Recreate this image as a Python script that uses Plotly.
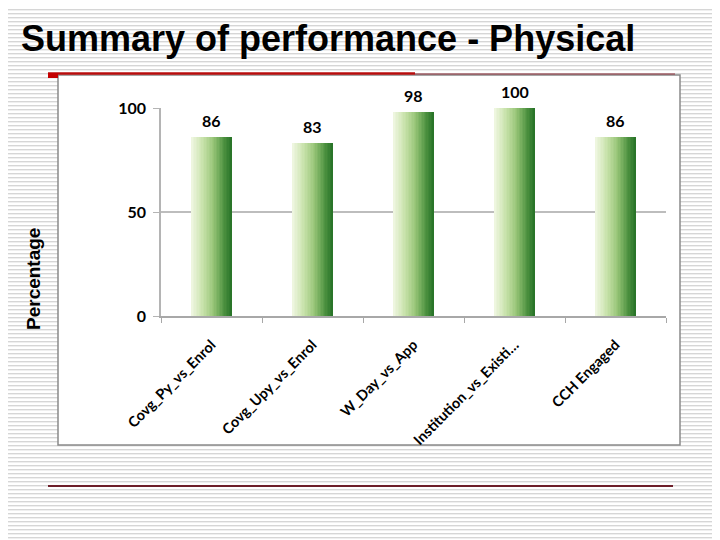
import plotly.graph_objects as go

# ---- data ----
categories = ["Covg_Py_vs_Enrol", "Covg_Upy_vs_Enrol", "W_Day_vs_App",
              "Institution_vs_Existi…", "CCH Engaged"]
values = [86, 83, 98, 100, 86]
y_ticks = [0, 50, 100]
title_text = "Summary of performance - Physical"
y_title = "Percentage"

# ---- geometry (pixels, in screen coordinates; page body has an 8px margin) ----
OFF = 8
W, H = 720 - OFF, 540 - OFF
L, R, T, B = 161, 666, 108, 316   # plot area in screen pixels
PW, PH = R - L, B - T

def px(x):
    return (x - L) / PW

def py(y):
    return (B - y) / PH

# ---- gradient bars built from overlapping slices ----
stops = [(0.0, (240, 247, 226)), (0.3, (198, 225, 168)), (0.55, (150, 196, 118)),
         (0.8, (80, 148, 66)), (1.0, (38, 114, 38))]

def grad(t):
    for (t0, c0), (t1, c1) in zip(stops[:-1], stops[1:]):
        if t <= t1:
            f = (t - t0) / (t1 - t0) if t1 > t0 else 0
            return "rgb(%d,%d,%d)" % tuple(round(a + (b - a) * f) for a, b in zip(c0, c1))
    return "rgb(%d,%d,%d)" % stops[-1][1]

BAR_W = 0.4
N = 28
fig = go.Figure()
for i in range(N):
    off = -BAR_W / 2 + i * BAR_W / N
    fig.add_trace(go.Bar(
        x=categories, y=values,
        width=[BAR_W - i * BAR_W / N] * len(values),
        offset=[off] * len(values),
        marker=dict(color=grad((i + 0.5) / N), line=dict(width=0)),
        hoverinfo="skip", showlegend=False,
    ))

# data labels
for c, v in zip(categories, values):
    fig.add_annotation(x=c, y=v, text=str(v), showarrow=False, yshift=17,
                       xref="x", yref="y",
                       font=dict(family="Lato", size=16, color="black", weight="bold"))

# striped slide background as SVG data image
svg = ("<svg xmlns='http://www.w3.org/2000/svg' width='720' height='540'>"
       "<defs><pattern id='p' width='8' height='4' patternUnits='userSpaceOnUse' y='1'>"
       "<rect x='0' y='0' width='8' height='1.4' fill='%23d6d6d6'/></pattern></defs>"
       "<rect width='720' height='540' fill='white'/>"
       "<rect width='720' height='540' fill='url(%23p)'/></svg>")
fig.add_layout_image(dict(source="data:image/svg+xml;utf8," + svg,
                          xref="paper", yref="paper", x=px(0), y=py(0),
                          sizex=720 / PW, sizey=540 / PH, sizing="stretch",
                          xanchor="left", yanchor="top", layer="below"))

shapes = [
    # white chart box
    dict(type="rect", xref="paper", yref="paper", x0=px(58), x1=px(680), y0=py(75), y1=py(445),
         fillcolor="white", line=dict(color="#8a8a8a", width=1.5), layer="below"),
    # top red lines
    dict(type="line", xref="paper", yref="paper", x0=px(415), x1=px(675), y0=py(74), y1=py(74),
         line=dict(color="#8e2a36", width=1.2), layer="above"),
    dict(type="line", xref="paper", yref="paper", x0=px(48), x1=px(415), y0=py(73.5), y1=py(73.5),
         line=dict(color="#b80c0c", width=2.5), layer="above"),
    dict(type="rect", xref="paper", yref="paper", x0=px(48), x1=px(58), y0=py(73), y1=py(78),
         fillcolor="#c40000", line=dict(width=0), layer="above"),
    # bottom line
    dict(type="line", xref="paper", yref="paper", x0=px(48), x1=px(673), y0=py(486), y1=py(486),
         line=dict(color="#6e1f2a", width=1.8), layer="above"),
]
fig.update_layout(shapes=shapes)

fig.add_annotation(text=title_text, xref="paper", yref="paper", x=px(19), y=py(38),
                   xanchor="left", yanchor="middle", showarrow=False,
                   font=dict(family="Liberation Sans", size=36, color="black", weight="bold"))
fig.add_annotation(text=y_title, xref="paper", yref="paper", x=px(33), y=py(279),
                   xanchor="center", yanchor="middle", showarrow=False, textangle=-90,
                   font=dict(family="Liberation Sans", size=19, color="black", weight="bold"))

fig.update_layout(
    width=W, height=H, margin=dict(l=L - OFF, r=W - (R - OFF), t=T - OFF, b=H - (B - OFF)),
    paper_bgcolor="white", plot_bgcolor="rgba(0,0,0,0)",
    barmode="overlay", bargap=0, showlegend=False,
    xaxis=dict(type="category", tickangle=-45, showline=True, linecolor="#a8a8a8", linewidth=1.5,
               ticks="outside", tickson="boundaries", ticklen=5, tickcolor="#a8a8a8",
               ticklabelstandoff=13,
               showgrid=False, tickfont=dict(family="Lato", size=14.5, color="black", weight="bold")),
    yaxis=dict(range=[0, 100], tickvals=y_ticks, showline=True, linecolor="#b4b4b4", linewidth=1.5,
               ticks="outside", ticklen=6, tickcolor="#b4b4b4", showgrid=True,
               gridcolor="#bdbdbd", gridwidth=1.5, zeroline=False, ticklabelstandoff=4,
               tickfont=dict(family="Lato", size=16, color="black", weight="bold")),
)

fig.write_html("out.html")
